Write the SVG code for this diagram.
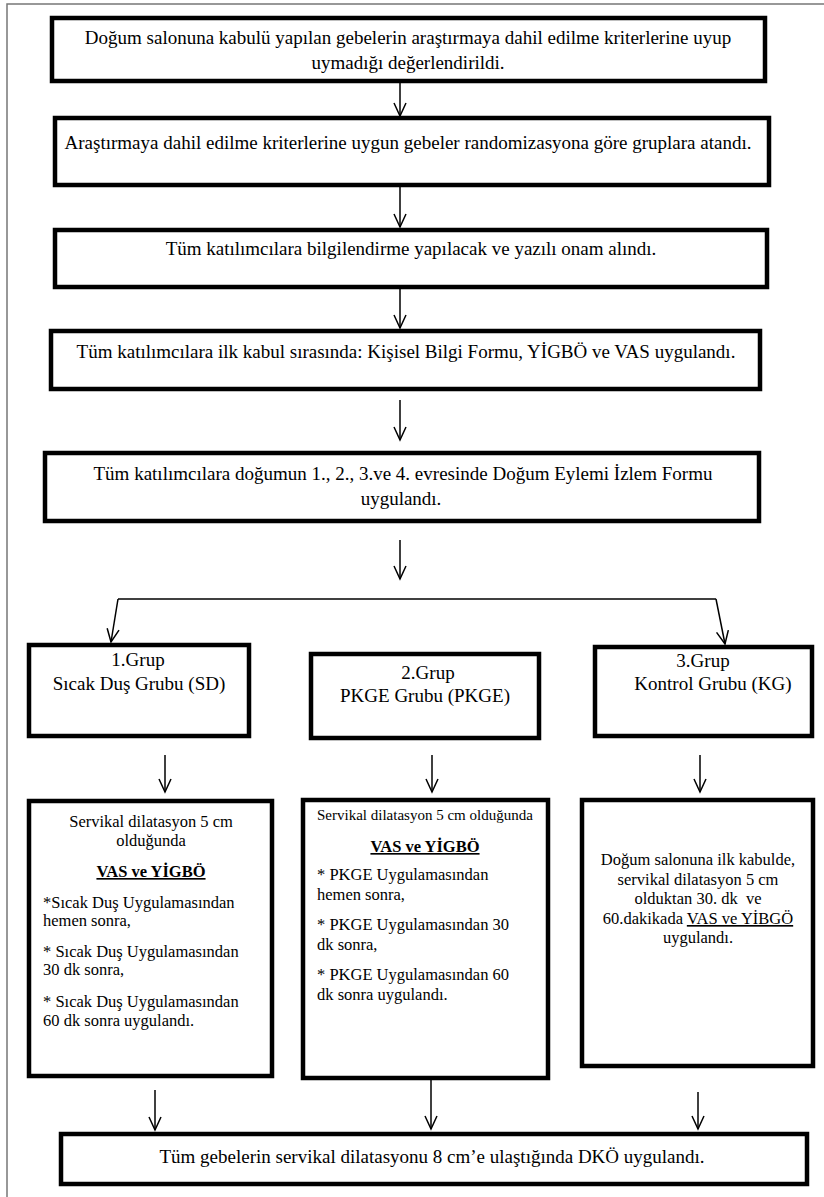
<svg xmlns="http://www.w3.org/2000/svg" width="824" height="1197" viewBox="0 0 824 1197">
<style>
.box{fill:#fff;stroke:#000;stroke-width:4.5}
.t{font-family:"Liberation Serif","Times New Roman",serif;fill:#000}
.m{font-size:19px;text-anchor:middle}
.g{font-size:19px;text-anchor:middle}
.d{font-size:16.5px}
.c{text-anchor:middle}
.b{font-weight:bold;text-decoration:underline}
.u{text-decoration:underline}
.ln{fill:none;stroke:#000;stroke-width:1.5}
</style>
<defs>
<marker id="ah" viewBox="-15 -8 17 16" refX="0" refY="0" markerWidth="17" markerHeight="16" markerUnits="userSpaceOnUse" orient="auto">
<path d="M-13,-6 L0,0 L-13,6" fill="none" stroke="#000" stroke-width="1.5"/>
</marker>
</defs>
<rect width="824" height="1197" fill="#fff"/>
<path d="M7,1197 V4 H824" fill="none" stroke="#777" stroke-width="1.5"/>

<g id="n1"><rect class="box" x="52" y="18" width="713" height="63"/>
<text class="t m" x="408" y="44">Doğum salonuna kabulü yapılan gebelerin araştırmaya dahil edilme kriterlerine uyup</text>
<text class="t m" x="408" y="69">uymadığı değerlendirildi.</text></g>

<g id="n2"><rect class="box" x="55" y="118" width="714" height="67"/>
<text class="t m" x="408" y="149">Araştırmaya dahil edilme kriterlerine uygun gebeler randomizasyona göre gruplara atandı.</text></g>

<g id="n3"><rect class="box" x="55" y="230" width="712" height="57"/>
<text class="t m" x="411" y="255">Tüm katılımcılara bilgilendirme yapılacak ve yazılı onam alındı.</text></g>

<g id="n4"><rect class="box" x="51" y="331" width="709" height="58"/>
<text class="t m" x="406" y="358">Tüm katılımcılara ilk kabul sırasında: Kişisel Bilgi Formu, YİGBÖ ve VAS uygulandı.</text></g>

<g id="n5"><rect class="box" x="45" y="453" width="714" height="68"/>
<text class="t m" x="403" y="480">Tüm katılımcılara doğumun 1., 2., 3.ve 4. evresinde Doğum Eylemi İzlem Formu</text>
<text class="t m" x="401" y="505">uygulandı.</text></g>

<g id="g1"><rect class="box" x="29" y="645" width="220" height="91"/>
<text class="t g" x="138" y="666">1.Grup</text>
<text class="t g" x="139" y="690">Sıcak Duş Grubu (SD)</text></g>

<g id="g2"><rect class="box" x="311" y="654" width="228" height="84"/>
<text class="t g" x="428" y="679">2.Grup</text>
<text class="t g" x="425" y="702">PKGE Grubu (PKGE)</text></g>

<g id="g3"><rect class="box" x="595" y="647" width="217" height="89"/>
<text class="t g" x="703" y="667">3.Grup</text>
<text class="t g" x="713" y="690">Kontrol Grubu (KG)</text></g>

<g id="d1"><rect class="box" x="29" y="801" width="243" height="275"/>
<text class="t d c" x="151" y="827">Servikal dilatasyon 5 cm</text>
<text class="t d c" x="151" y="846">olduğunda</text>
<text class="t d c b" x="151" y="877">VAS ve YİGBÖ</text>
<text class="t d" x="43" y="908">*Sıcak Duş Uygulamasından</text>
<text class="t d" x="43" y="926">hemen sonra,</text>
<text class="t d" x="43" y="957">* Sıcak Duş Uygulamasından</text>
<text class="t d" x="43" y="975">30 dk sonra,</text>
<text class="t d" x="43" y="1007">* Sıcak Duş Uygulamasından</text>
<text class="t d" x="43" y="1026">60 dk sonra uygulandı.</text></g>

<g id="d2"><rect class="box" x="303" y="800" width="245" height="278"/>
<text class="t" x="317" y="820" font-size="15">Servikal dilatasyon 5 cm olduğunda</text>
<text class="t d c b" x="425" y="852">VAS ve YİGBÖ</text>
<text class="t d" x="317" y="880">* PKGE Uygulamasından</text>
<text class="t d" x="317" y="900">hemen sonra,</text>
<text class="t d" x="317" y="930">* PKGE Uygulamasından 30</text>
<text class="t d" x="317" y="950">dk sonra,</text>
<text class="t d" x="317" y="980">* PKGE Uygulamasından 60</text>
<text class="t d" x="317" y="1000">dk sonra uygulandı.</text></g>

<g id="d3"><rect class="box" x="582" y="800" width="231" height="266"/>
<text class="t d c" x="698" y="865">Doğum salonuna ilk kabulde,</text>
<text class="t d c" x="698" y="885">servikal dilatasyon 5 cm</text>
<text class="t d c" x="698" y="904" xml:space="preserve">olduktan 30. dk  ve</text>
<text class="t d c" x="698" y="924">60.dakikada <tspan class="u">VAS ve YİBGÖ</tspan></text>
<text class="t d c" x="698" y="943">uygulandı.</text></g>

<g id="n6"><rect class="box" x="61" y="1134" width="746" height="50"/>
<text class="t m" x="432" y="1163">Tüm gebelerin servikal dilatasyonu 8 cm’e ulaştığında DKÖ uygulandı.</text></g>

<g id="connectors">
<path class="ln" d="M400,83 V116" marker-end="url(#ah)"/>
<path class="ln" d="M400,187 V227" marker-end="url(#ah)"/>
<path class="ln" d="M400,289 V328" marker-end="url(#ah)"/>
<path class="ln" d="M400,400 V440" marker-end="url(#ah)"/>
<path class="ln" d="M400,540 V579" marker-end="url(#ah)"/>
<path class="ln" d="M118,599 L111,642" marker-end="url(#ah)"/>
<path class="ln" d="M118,599 H716"/>
<path class="ln" d="M716,599 L725,644" marker-end="url(#ah)"/>
<path class="ln" d="M165,755 V792" marker-end="url(#ah)"/>
<path class="ln" d="M432,755 V792" marker-end="url(#ah)"/>
<path class="ln" d="M700,755 V792" marker-end="url(#ah)"/>
<path class="ln" d="M155,1090 V1130" marker-end="url(#ah)"/>
<path class="ln" d="M431,1080 V1129" marker-end="url(#ah)"/>
<path class="ln" d="M698,1092 V1129" marker-end="url(#ah)"/>
</g>
</svg>
